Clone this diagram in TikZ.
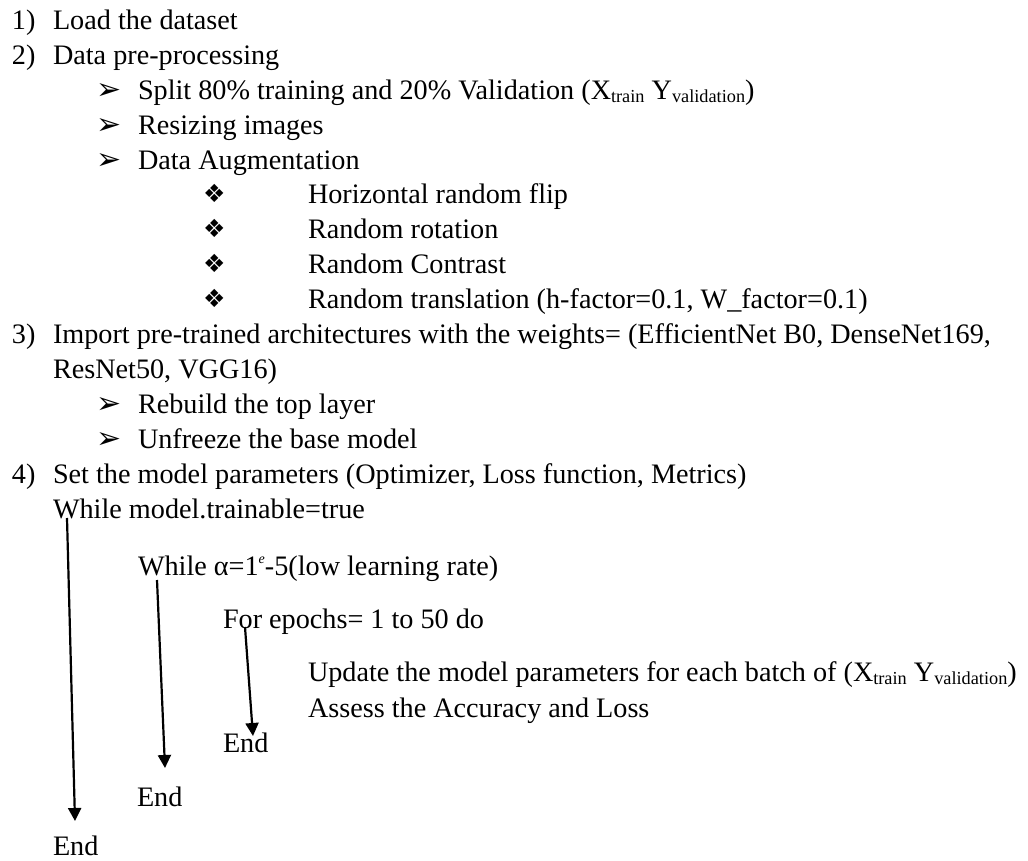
\documentclass[tikz,border=0pt]{standalone}
\usepackage{fontspec}
\setmainfont{Liberation Serif}
\newfontfamily\dingfont{DejaVu Sans}
\usetikzlibrary{arrows.meta}

% subscripts and superscripts set in the Word style of the listing
\newcommand{\lowtxt}[1]{\raisebox{-0.13em}{\fontsize{18.3}{18.3}\selectfont #1}}
\newcommand{\hightxt}[1]{\raisebox{0.42em}{\fontsize{14}{14}\selectfont\itshape #1}}
\newcommand{\arrbullet}{{\dingfont\fontsize{30}{30}\selectfont ➢}}
\newcommand{\diabullet}{{\dingfont\fontsize{25}{25}\selectfont ❖}}

\begin{document}
\begin{tikzpicture}[x=1pt,y=-1pt,
  every node/.style={inner sep=0pt,outer sep=0pt,anchor=base west,
    font=\fontsize{28.2}{34.9}\selectfont},
  loopline/.style={line width=2.2pt,-{Triangle[length=13pt,width=13pt]}}]
\useasboundingbox (0,0) rectangle (1028,861);

% numbered steps with hanging indent
\node (n1) at (12,29.5) {1)};
\node (t1) at (53,29.5) {Load the dataset};
\node (n2) at (12,64.4) {2)};
\node (t2) at (53,64.4) {Data pre-processing};

% pre-processing sub-items
\node (b21) at (96,99.3) {\arrbullet};
\node (t21) at (138,99.3) {Split 80\% training and 20\% Validation (X\lowtxt{train} Y\lowtxt{validation})};
\node (b22) at (96,134.2) {\arrbullet};
\node (t22) at (138,134.2) {Resizing images};
\node (b23) at (96,169.1) {\arrbullet};
\node (t23) at (138,169.1) {Data Augmentation};

% augmentation operations
\node (d1) at (203,203) {\diabullet};
\node (a1) at (308,204) {Horizontal random flip};
\node (d2) at (203,237.9) {\diabullet};
\node (a2) at (308,238.9) {Random rotation};
\node (d3) at (203,272.8) {\diabullet};
\node (a3) at (308,273.8) {Random Contrast};
\node (d4) at (203,307.7) {\diabullet};
\node (a4) at (308,308.7) {Random translation (h-factor=0.1, W\_factor=0.1)};

% transfer learning step
\node (n3) at (12,343.6) {3)};
\node (t3) at (53,343.6) {Import pre-trained architectures with the weights= (EfficientNet B0, DenseNet169,};
\node (t3b) at (53,378.5) {ResNet50, VGG16)};
\node (b31) at (96,413.4) {\arrbullet};
\node (t31) at (138,413.4) {Rebuild the top layer};
\node (b32) at (96,448.3) {\arrbullet};
\node (t32) at (138,448.3) {Unfreeze the base model};

% training loops
\node (n4) at (12,483.2) {4)};
\node (t4) at (53,483.2) {Set the model parameters (Optimizer, Loss function, Metrics)};
\node (w1) at (53,518.1) {While model.trainable=true};
\node (w2) at (138,575) {While α=1\hightxt{e}-5(low learning rate)};
\node (f1) at (223,628) {For epochs= 1 to 50 do};
\node (u1) at (308,681) {Update the model parameters for each batch of (X\lowtxt{train} Y\lowtxt{validation})};
\node (u2) at (308,717) {Assess the Accuracy and Loss};
\node (e3) at (223,752) {End};
\node (e2) at (137,806) {End};
\node (e1) at (53,855) {End};

% loop extents
\coordinate (o1) at (67,518);
\coordinate (o2) at (75,821);
\coordinate (m1) at (157,580);
\coordinate (m2) at (165,768);
\coordinate (i1) at (245,627);
\coordinate (i2) at (253,736);
\draw[loopline] (o1) -- (o2);
\draw[loopline] (m1) -- (m2);
\draw[loopline] (i1) -- (i2);
\end{tikzpicture}
\end{document}
